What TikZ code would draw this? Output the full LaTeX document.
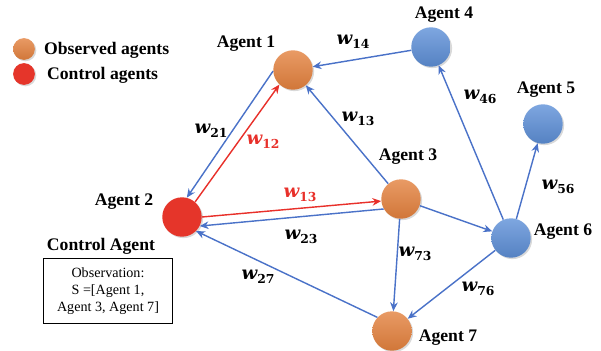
\documentclass[tikz,border=0pt]{standalone}
\usepackage{fontspec}
\setmainfont{Liberation Serif}
\newfontfamily\wfont{DejaVu Serif}
\usetikzlibrary{arrows.meta,shadows}

\definecolor{obsorange}{HTML}{E3813E}
\definecolor{ctrlred}{HTML}{E5352A}
\definecolor{agentblue}{HTML}{5E90D8}
\definecolor{edgeblue}{HTML}{4A72C8}
\definecolor{edgered}{HTML}{E8302A}

% edge weight w_{ij}
\newcommand{\wlab}[1]{{\wfont\bfseries\itshape w}\raisebox{-0.5ex}{\wfont\bfseries\fontsize{10.5}{12}\selectfont #1}}

\begin{document}
\begin{tikzpicture}[
      x=0.85pt, y=-0.85pt,
      agent/.style={circle,minimum size=33.5pt,inner sep=0pt,
        drop shadow={opacity=0.3,shadow xshift=1.2pt,shadow yshift=-1.2pt}},
      observed/.style={agent,top color=obsorange!80!white,bottom color=obsorange!92!black},
      control/.style={agent,fill=ctrlred},
      other/.style={agent,top color=agentblue!80!white,bottom color=agentblue!90!black},
      agentname/.style={font=\bfseries\fontsize{15}{17}\selectfont},
      weight/.style={font=\fontsize{15.5}{17}\selectfont},
      link/.style={draw=edgeblue,line width=1.2pt,-{Stealth[length=7.5pt,width=6.5pt]}},
      ctrllink/.style={link,draw=edgered}
    ]
    \useasboundingbox (0,0) rectangle (601,351);
    % Legend.
    \node[observed,minimum size=18.5pt] (leg1) at (24,49) {};
    \node[control,minimum size=18.5pt] (leg2) at (24,74) {};
    \node[agentname,anchor=west] (legt1) at (40,50) {Observed agents};
    \node[agentname,anchor=west] (legt2) at (43,75) {Control agents};
    % Agents.
    \node[observed] (a1) at (293,70) {};
    \node[control]  (a2) at (182,217) {};
    \node[observed] (a3) at (401,199) {};
    \node[other]    (a4) at (431,47) {};
    \node[other]    (a5) at (543,124) {};
    \node[other]    (a6) at (511,238) {};
    \node[observed] (a7) at (392,331) {};
    \node[agentname] (n1) at (246,44) {Agent 1};
    \node[agentname] (n2) at (124,202) {Agent 2};
    \node[agentname] (n3) at (408,157) {Agent 3};
    \node[agentname] (n4) at (444,15) {Agent 4};
    \node[agentname] (n5) at (546,90) {Agent 5};
    \node[agentname] (n6) at (563,232) {Agent 6};
    \node[agentname] (n7) at (448,338) {Agent 7};
    % Control agent and its observation.
    \node[agentname] (ctl) at (101,246) {Control Agent};
    \node[draw,line width=0.8pt,minimum width=109pt,minimum height=56pt,
      align=center,font=\fontsize{12}{14.5}\selectfont] (obs) at (108,291)
      {Observation:\\S =[Agent 1,\\Agent 3, Agent 7]};
    % Links.
    \draw[link] (a4) -- (a1);
    \draw[link] (a1.183) -- (a2.76);
    \draw[ctrllink] (a2.49) -- (a1.227);
    \draw[link] (a3) -- (a1);
    \draw[ctrllink] (a2.0) -- (a3.186);
    \draw[link] (a3.210) -- (a2.-27);
    \draw[link] (a7.137) -- (a2.-45);
    \draw[link] (a3) -- (a7);
    \draw[link] (a3) -- (a6);
    \draw[link] (a6) -- (a4);
    \draw[link] (a6) -- (a5);
    \draw[link] (a6) -- (a7);
    % Weights.
    \node[weight] (w14) at (353,42) {\wlab{14}};
    \node[weight] (w21) at (211,131) {\wlab{21}};
    \node[weight,text=edgered] (w12) at (263,142) {\wlab{12}};
    \node[weight] (w13) at (358,119) {\wlab{13}};
    \node[weight] (w46) at (480,97) {\wlab{46}};
    \node[weight] (w56) at (558,187) {\wlab{56}};
    \node[weight,text=edgered] (w13c) at (300,195) {\wlab{13}};
    \node[weight] (w23) at (301,237) {\wlab{23}};
    \node[weight] (w73) at (415,254) {\wlab{73}};
    \node[weight] (w27) at (258,277) {\wlab{27}};
    \node[weight] (w76) at (478,289) {\wlab{76}};
\end{tikzpicture}
\end{document}
